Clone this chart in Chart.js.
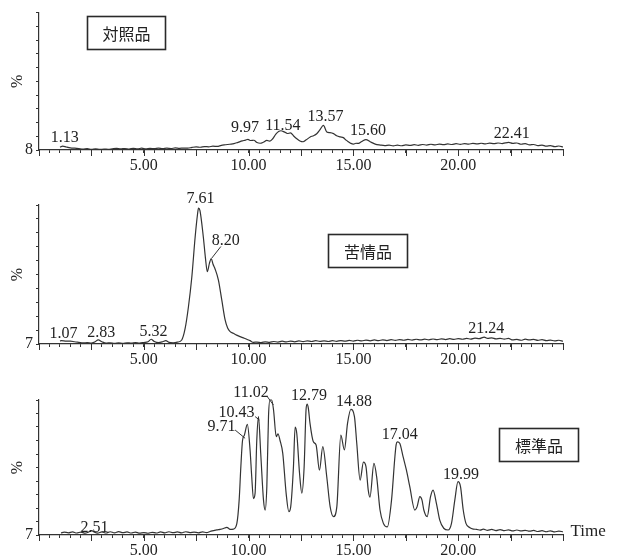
<!DOCTYPE html>
<html><head><meta charset="utf-8">
<script src="https://cdn.jsdelivr.net/npm/chart.js@4.4.1/dist/chart.umd.min.js"></script>
<style>
html,body{margin:0;padding:0;background:#fff;}
#wrap{position:relative;width:619px;height:556px;overflow:hidden;background:#fff;}
canvas{position:absolute;left:0;}
</style></head><body>
<div id="wrap">
<canvas id="c1" width="619" height="185" style="top:0px"></canvas>
<canvas id="c2" width="619" height="195" style="top:185px"></canvas>
<canvas id="c3" width="619" height="176" style="top:380px"></canvas>
</div>
<script>
// ---------- DATA ----------
const xTickLabels = ['5.00', '10.00', '15.00', '20.00'];
const yZeroLabels = ['8', '7', '7'];
const sampleNames = ['対照品', '苦情品', '標準品'];
const xAxisName = 'Time';

// Panel 1: 対照品
const t1 = [1.0,1.13,1.3,1.5,1.7,1.9,2.1,2.3,2.5,2.7,2.9,3.1,3.3,3.5,3.7,3.9,4.1,4.3,4.5,4.7,4.9,5.1,5.3,5.5,5.7,5.9,6.1,6.3,6.5,6.7,6.9,7.1,7.3,7.5,7.7,7.9,8.1,8.3,8.5,8.7,8.9,9.1,9.3,9.5,9.7,9.85,9.97,10.1,10.25,10.4,10.55,10.7,10.87,11.0,11.15,11.3,11.45,11.54,11.7,11.85,12.0,12.15,12.3,12.45,12.6,12.75,12.94,13.1,13.25,13.4,13.57,13.73,13.88,14.05,14.2,14.37,14.52,14.65,14.76,14.88,15.0,15.12,15.24,15.4,15.6,15.8,16.04,16.28,16.5,16.7,16.9,17.1,17.3,17.5,17.7,17.9,18.1,18.3,18.5,18.7,18.9,19.1,19.3,19.5,19.7,19.9,20.1,20.3,20.5,20.7,20.9,21.1,21.3,21.5,21.7,21.9,22.1,22.25,22.41,22.6,22.8,23.0,23.2,23.4,23.6,23.8,24.0,24.2,24.4,24.6,24.8,25.0];
const v1 = [2.0,2.8,2.2,1.6,1.3,1.0,0.7,1.0,0.5,0.9,0.4,0.7,0.5,0.9,1.2,0.8,1.1,0.7,1.2,0.9,1.3,0.8,1.2,1.0,1.4,1.0,1.3,1.1,1.5,1.2,1.4,1.3,1.9,2.3,2.0,2.5,2.3,2.8,2.6,3.4,3.8,4.2,4.6,5.6,6.6,7.2,7.8,6.9,7.1,5.4,4.9,5.6,7.0,6.4,8.2,11.5,13.6,14.0,13.2,12.0,12.4,10.2,8.2,6.6,6.0,7.4,9.5,10.4,11.8,14.6,17.9,13.1,12.6,11.9,10.4,9.5,9.0,7.2,6.0,4.8,4.3,4.9,4.8,6.2,7.6,6.0,4.3,3.6,3.2,3.6,3.0,3.5,3.1,3.7,3.3,3.9,3.4,4.0,3.6,4.2,3.7,4.3,3.9,4.4,4.0,4.6,4.1,4.7,4.3,4.8,4.4,4.9,4.5,5.0,4.6,5.1,4.7,5.2,5.5,4.8,5.1,4.2,4.6,3.7,4.0,3.2,3.6,2.8,3.2,2.5,2.9,2.2];
const peakTimes1 = [1.13, 9.97, 11.54, 13.57, 15.60, 22.41];
const peakLabels1 = ['1.13', '9.97', '11.54', '13.57', '15.60', '22.41'];

// Panel 2: 苦情品
const t2 = [1.0,1.07,1.3,1.5,1.7,1.9,2.1,2.3,2.5,2.65,2.83,3.0,3.2,3.4,3.6,3.8,4.0,4.2,4.4,4.6,4.8,5.0,5.2,5.35,5.5,5.7,5.9,6.05,6.2,6.4,6.6,6.81,6.97,7.13,7.29,7.45,7.56,7.61,7.68,7.84,7.94,8.03,8.13,8.22,8.3,8.4,8.56,8.72,8.88,9.0,9.12,9.27,9.43,9.59,9.75,9.91,10.07,10.23,10.4,10.6,10.8,11.0,11.2,11.4,11.6,11.8,12.0,12.2,12.4,12.6,12.8,13.0,13.2,13.4,13.6,13.8,14.0,14.2,14.4,14.6,14.8,15.0,15.2,15.4,15.6,15.8,16.0,16.2,16.4,16.6,16.8,17.0,17.2,17.4,17.6,17.8,18.0,18.2,18.4,18.6,18.8,19.0,19.2,19.4,19.6,19.8,20.0,20.2,20.4,20.6,20.8,21.0,21.24,21.4,21.6,21.8,22.0,22.2,22.4,22.6,22.8,23.0,23.2,23.4,23.6,23.8,24.0,24.2,24.4,24.6,24.8,25.0];
const v2 = [2.2,2.4,2.0,2.1,1.6,1.2,0.8,1.0,0.6,1.4,2.9,1.6,0.6,0.9,0.4,0.8,0.5,0.9,0.6,1.0,0.7,1.1,1.6,3.4,1.8,1.0,1.6,2.4,1.2,0.9,1.3,2.9,11.0,26.8,48.0,77.0,93.0,97.8,96.0,77.0,62.0,52.0,58.0,61.5,57.5,54.0,46.0,31.7,17.3,11.5,8.9,7.7,6.4,5.3,4.4,3.4,2.4,1.2,1.4,1.0,1.6,1.2,1.8,1.4,2.0,1.5,2.1,1.6,2.2,1.7,2.3,1.8,2.4,1.9,2.3,1.8,2.4,1.9,2.5,2.0,2.6,2.1,2.7,2.2,2.8,2.3,2.9,2.4,3.0,2.5,3.1,2.6,3.2,2.7,3.3,2.8,3.4,2.9,3.5,3.0,3.6,3.1,3.7,3.2,3.8,3.3,3.9,3.4,4.0,3.5,4.2,3.8,5.0,4.0,4.4,3.7,4.1,3.5,4.0,2.9,3.3,2.7,3.5,2.9,3.3,2.6,3.1,2.4,2.8,2.2,2.7,2.0];
const peakTimes2 = [1.07, 2.83, 5.32, 7.61, 8.20, 21.24];
const peakLabels2 = ['1.07', '2.83', '5.32', '7.61', '8.20', '21.24'];

// Panel 3: 標準品
const t3 = [1.05,1.2,1.4,1.6,1.8,2.0,2.2,2.35,2.51,2.65,2.8,3.0,3.2,3.4,3.6,3.8,4.0,4.2,4.4,4.6,4.8,5.0,5.2,5.4,5.6,5.8,6.0,6.2,6.4,6.6,6.8,7.0,7.2,7.4,7.6,7.8,8.0,8.16,8.32,8.48,8.64,8.8,8.96,9.12,9.28,9.44,9.55,9.63,9.71,9.8,9.94,10.07,10.15,10.23,10.31,10.39,10.47,10.58,10.71,10.79,10.87,10.95,11.02,11.1,11.19,11.32,11.4,11.5,11.63,11.79,11.92,12.01,12.14,12.22,12.3,12.43,12.54,12.65,12.74,12.79,12.85,12.93,13.09,13.22,13.38,13.54,13.73,13.89,14.05,14.21,14.4,14.57,14.72,14.88,15.05,15.16,15.32,15.48,15.6,15.71,15.79,15.98,16.11,16.27,16.43,16.62,16.82,16.98,17.04,17.1,17.21,17.37,17.53,17.69,17.93,18.04,18.17,18.27,18.36,18.52,18.68,18.8,18.96,19.12,19.31,19.52,19.68,19.84,19.99,20.11,20.24,20.37,20.56,20.72,20.88,21.05,21.2,21.4,21.6,21.8,22.0,22.2,22.4,22.6,22.8,23.0,23.2,23.4,23.6,23.8,24.0,24.2,24.4,24.6,24.8,25.0];
const v3 = [1.5,2.2,1.6,2.3,1.5,2.2,1.4,2.1,3.2,2.0,1.4,2.3,1.5,2.4,1.6,2.5,1.7,2.3,1.5,2.2,1.4,1.8,1.3,2.0,1.5,2.3,1.6,2.4,1.7,2.3,1.6,2.4,1.8,2.2,1.6,2.3,1.8,2.6,3.2,3.8,4.2,4.8,5.7,4.2,4.4,8.6,26.0,50.6,70.0,74.0,82.0,63.0,43.0,27.0,31.0,70.0,87.7,60.0,26.0,18.5,36.0,88.0,100,100,92.6,72.8,75.0,70.0,60.5,31.0,17.3,21.0,50.6,80.0,75.0,45.7,31.0,50.6,92.6,97.0,94.0,82.7,69.0,66.7,48.0,65.4,43.0,21.0,13.6,21.0,74.0,63.0,82.7,93.0,87.7,68.0,40.7,54.0,50.6,33.0,28.0,53.0,43.0,18.5,8.6,6.0,26.0,58.0,67.0,69.0,68.0,58.0,48.0,35.8,18.5,21.0,28.4,26.0,18.5,13.6,28.4,33.3,23.5,11.0,5.0,3.7,8.6,26.0,39.5,35.8,18.5,8.6,5.4,4.4,4.2,3.6,4.3,3.5,4.1,3.3,4.0,3.2,3.8,3.0,3.7,3.0,3.5,2.8,3.4,2.6,3.2,2.4,3.1,2.3,2.9,2.4];
const peakTimes3 = [2.51, 9.71, 10.43, 11.02, 12.79, 14.88, 17.04, 19.99];
const peakLabels3 = ['2.51', '9.71', '10.43', '11.02', '12.79', '14.88', '17.04', '19.99'];

// ---------- STYLE / PLACEMENT ----------
const LINE = '#333333';
const TEXT = '#222222';
const NUM_FONT = '"Liberation Serif", "DejaVu Serif", serif';
const CJK_FONT = '"Noto Sans CJK JP", "Noto Sans CJK SC", sans-serif';

const panelStyles = [
  { padTop: 10, xAxisH: 35,
    offsets: [[2,-8],[-3,-11],[2,-5],[2,-9],[2,-9],[3,-9]], leaders: {},
    box: [87, 16, 78, 33] },
  { padTop: 20, xAxisH: 36,
    offsets: [[2,-7],[3,-7],[3,-7],[2,-9],[15,-18],[2,-8]],
    leaders: { 4: [1,-0.5,10,-12] },
    box: [328, 49, 79, 33] },
  { padTop: 20, xAxisH: 21,
    offsets: [[3,-3],[-21,-8.5],[-21,-4],[-19,-7.5],[2,-8],[3,-7.5],[3.5,-7],[3,-7]],
    leaders: { 1: [-7.4,-5.1,2.6,3.2], 2: [-2.5,0,1.8,3.4], 3: [-2.6,-3.3,3.4,5] },
    box: [499, 48, 79, 33], timeLabel: [570.5, 152] }
];

function anchorValue(ts, vs, t) {
  let best = -Infinity;
  for (let i = 0; i < ts.length; i++) {
    if (Math.abs(ts[i] - t) <= 0.12 && vs[i] > best) best = vs[i];
  }
  return best;
}

function makeAnnot(ts, vs, times, labels, name, st) {
  return {
    id: 'annot',
    afterDatasetsDraw(chart) {
      const ctx = chart.ctx, xs = chart.scales.x, ys = chart.scales.y;
      ctx.save();
      ctx.strokeStyle = LINE; ctx.lineWidth = 1;
      // longer ticks every 2.5 min
      for (let k = 0; k <= 10; k++) {
        const px = Math.round(xs.getPixelForValue(k * 2.5)) + 0.5;
        ctx.beginPath(); ctx.moveTo(px, xs.top); ctx.lineTo(px, xs.top + 6); ctx.stroke();
      }
      // peak labels
      ctx.fillStyle = TEXT;
      ctx.font = '16px ' + NUM_FONT;
      ctx.textAlign = 'center'; ctx.textBaseline = 'middle';
      times.forEach((t, i) => {
        const ax = xs.getPixelForValue(t);
        const ay = ys.getPixelForValue(anchorValue(ts, vs, t));
        const o = st.offsets[i];
        ctx.fillText(labels[i], ax + o[0], ay + o[1]);
        const L = st.leaders[i];
        if (L) {
          ctx.beginPath(); ctx.moveTo(ax + L[0], ay + L[1]); ctx.lineTo(ax + L[2], ay + L[3]); ctx.stroke();
        }
      });
      // sample name box
      const b = st.box;
      ctx.lineWidth = 1.6; ctx.strokeStyle = '#2a2a2a';
      ctx.strokeRect(b[0] + 0.5, b[1] + 0.5, b[2], b[3]);
      ctx.font = '16px ' + CJK_FONT;
      ctx.fillText(name, b[0] + b[2] / 2 + 0.5, b[1] + b[3] / 2 + 1);
      if (st.timeLabel) {
        ctx.textAlign = 'left';
        ctx.font = '17px ' + NUM_FONT;
        ctx.fillText(xAxisName, st.timeLabel[0], st.timeLabel[1]);
      }
      ctx.restore();
    }
  };
}

function makeChart(id, ts, vs, zeroLabel, times, labels, name, st) {
  return new Chart(document.getElementById(id), {
    type: 'line',
    data: { datasets: [{
      data: ts.map((t, i) => ({ x: t, y: vs[i] })),
      borderColor: LINE, borderWidth: 1.2, pointRadius: 0,
      cubicInterpolationMode: 'monotone', fill: false, clip: false
    }] },
    options: {
      responsive: false, animation: false, devicePixelRatio: 1,
      layout: { padding: { top: st.padTop, right: 56, left: 0, bottom: 0 } },
      plugins: { legend: { display: false }, tooltip: { enabled: false } },
      scales: {
        x: {
          type: 'linear', min: 0, max: 25,
          afterFit(s) { s.height = st.xAxisH; },
          ticks: {
            stepSize: 0.5, autoSkip: false, maxRotation: 0, minRotation: 0, padding: 3,
            color: TEXT, font: { family: NUM_FONT, size: 16 },
            callback(v) {
              const r = v / 5;
              if (Math.abs(r - Math.round(r)) < 1e-6 && v > 0 && v < 25) return xTickLabels[Math.round(r) - 1];
              return '';
            }
          },
          grid: { drawOnChartArea: false, drawTicks: true, tickLength: 3, color: LINE, tickColor: LINE, tickWidth: 1 },
          border: { display: true, color: LINE, width: 1.2 }
        },
        y: {
          min: 0, max: 100,
          afterFit(s) { s.width = 39; },
          ticks: {
            stepSize: 10, autoSkip: false, padding: 3,
            color: TEXT, font: { family: NUM_FONT, size: 16 },
            callback(v) { return v === 0 ? zeroLabel : ''; }
          },
          grid: { drawOnChartArea: false, drawTicks: true, tickLength: 3, color: LINE, tickColor: LINE, tickWidth: 1 },
          border: { display: true, color: LINE, width: 1.2 },
          title: { display: true, text: '%', color: TEXT, font: { family: NUM_FONT, size: 16 }, padding: { top: 8, bottom: 0 } }
        }
      }
    },
    plugins: [makeAnnot(ts, vs, times, labels, name, st)]
  });
}

makeChart('c1', t1, v1, yZeroLabels[0], peakTimes1, peakLabels1, sampleNames[0], panelStyles[0]);
makeChart('c2', t2, v2, yZeroLabels[1], peakTimes2, peakLabels2, sampleNames[1], panelStyles[1]);
makeChart('c3', t3, v3, yZeroLabels[2], peakTimes3, peakLabels3, sampleNames[2], panelStyles[2]);
</script>
</body></html>
